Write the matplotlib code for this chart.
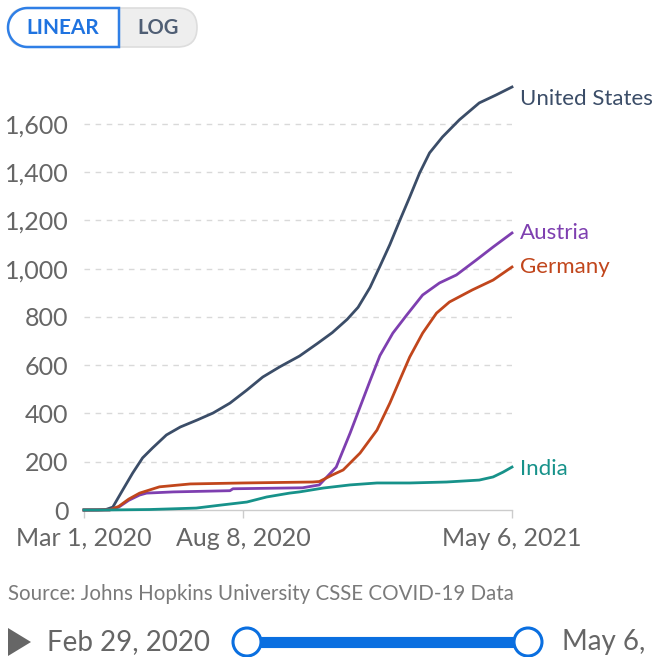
import matplotlib
matplotlib.use("Agg")
import matplotlib.pyplot as plt
from matplotlib.patches import FancyBboxPatch, Polygon, Circle
import numpy as np
import pandas as pd

plt.rcParams['font.family'] = ['Lato', 'DejaVu Sans']

# ---------------- data (cumulative confirmed COVID-19 deaths per million) ----------------
us_dates = ["2020-03-01", "2020-03-15", "2020-03-23", "2020-03-30", "2020-04-09", "2020-04-19",
            "2020-04-29", "2020-05-09", "2020-05-23", "2020-06-06", "2020-06-23", "2020-07-09",
            "2020-07-26", "2020-08-12", "2020-08-28", "2020-09-14", "2020-10-04", "2020-10-22",
            "2020-11-06", "2020-11-21", "2020-12-02", "2020-12-14", "2020-12-24", "2021-01-03",
            "2021-01-13", "2021-01-23", "2021-02-02", "2021-02-12", "2021-02-25", "2021-03-14",
            "2021-04-03", "2021-04-20", "2021-05-06"]
us_values = [0, 0.3, 2, 12, 83, 153, 216, 257, 311, 344, 373, 402, 443, 497, 551, 593, 638, 690,
             735, 790, 840, 922, 1010, 1100, 1200, 1297, 1397, 1480, 1546, 1617, 1687, 1720, 1753]

de_dates = ["2020-03-01", "2020-03-27", "2020-04-05", "2020-04-15", "2020-04-26", "2020-05-16",
            "2020-06-16", "2020-08-08", "2020-10-17", "2020-10-24", "2020-11-06", "2020-11-17",
            "2020-12-04", "2020-12-21", "2021-01-03", "2021-01-13", "2021-01-23", "2021-02-05",
            "2021-02-19", "2021-03-04", "2021-03-27", "2021-04-17", "2021-05-06"]
de_values = [0, 0.5, 15, 45, 70, 96, 108, 112, 116, 118, 145, 166, 236, 331, 443, 539, 634, 733,
             816, 862, 912, 953, 1007]

at_dates = ["2020-03-01", "2020-03-27", "2020-04-05", "2020-04-15", "2020-04-26", "2020-05-03",
            "2020-05-30", "2020-07-26", "2020-07-29", "2020-10-07", "2020-10-24", "2020-11-10",
            "2020-11-24", "2020-12-04", "2020-12-14", "2020-12-24", "2021-01-06", "2021-01-20",
            "2021-02-05", "2021-02-22", "2021-03-11", "2021-03-31", "2021-04-17", "2021-05-06"]
at_values = [0, 0.5, 12, 40, 62, 70, 75, 80, 88, 92, 104, 178, 319, 427, 535, 640, 733, 808,
             891, 941, 974, 1036, 1090, 1148]

in_dates = ["2020-03-01", "2020-03-21", "2020-05-06", "2020-05-30", "2020-06-22", "2020-07-16",
            "2020-08-12", "2020-09-01", "2020-09-24", "2020-10-04", "2020-10-28", "2020-11-24",
            "2020-12-21", "2021-01-23", "2021-03-01", "2021-04-03", "2021-04-17", "2021-04-27",
            "2021-05-06"]
in_values = [0, 0, 2, 5, 8, 20, 33, 54, 70, 75, 91, 104, 112, 112, 116, 124, 137, 157, 178]

series = [
    ("United States", us_dates, us_values, "#3b4d68"),
    ("Austria", at_dates, at_values, "#7e3fb0"),
    ("Germany", de_dates, de_values, "#c1461c"),
    ("India", in_dates, in_values, "#17928a"),
]
label_y = {"United States": 1705, "Austria": 1148, "Germany": 1007, "India": 170}

y_ticks = [0, 200, 400, 600, 800, 1000, 1200, 1400, 1600]
x_ticks = ["2020-03-01", "2020-08-08", "2021-05-06"]
x_tick_labels = ["Mar 1, 2020", "Aug 8, 2020", "May 6, 2021"]

# ---------------- figure ----------------
W, H = 652, 657
fig = plt.figure(figsize=(W / 100, H / 100), dpi=100)

def px_rect(x0, y0, x1, y1):
    return [x0 / W, 1 - y1 / H, (x1 - x0) / W, (y1 - y0) / H]

ax = fig.add_axes(px_rect(84, 80, 512, 510))
for name, d, v, c in series:
    ax.plot(pd.to_datetime(d), v, color=c, lw=2.0, solid_joinstyle="round", zorder=3, clip_on=False)
    ax.text(pd.to_datetime(d[-1]) + pd.Timedelta(days=8), label_y[name], name, color=c,
            fontsize=16, va="center", ha="left", clip_on=False)

ax.set_xlim(pd.Timestamp("2020-03-01"), pd.Timestamp("2021-05-06"))
ax.set_ylim(0, 1782)
for s in ["top", "right", "left"]:
    ax.spines[s].set_visible(False)
ax.spines["bottom"].set_color("#cccccc")
ax.spines["bottom"].set_linewidth(1)
ax.set_yticks(y_ticks)
ax.set_yticklabels([f"{t:,}" for t in y_ticks])
ax.tick_params(axis="y", length=0, pad=11, labelsize=18, labelcolor="#666666")
ax.set_xticks(pd.to_datetime(x_ticks))
ax.set_xticklabels(x_tick_labels)
ax.tick_params(axis="x", length=6, width=1, color="#cccccc", pad=6, labelsize=18, labelcolor="#666666")
for t in y_ticks[1:]:
    ax.axhline(t, color="#d9d9d9", lw=1, ls=(0, (4, 4)), zorder=1)

# ---------------- overlay (controls, source) ----------------
ov = fig.add_axes([0, 0, 1, 1], zorder=-1)
ov.set_xlim(0, W)
ov.set_ylim(H, 0)
ov.axis("off")

# LINEAR / LOG toggle
r = 19.5
pill = FancyBboxPatch((8, 8), 189, 39, boxstyle=f"round,pad=0,rounding_size={r}",
                      fc="#eeeeee", ec="#dddddd", lw=1.2)
ov.add_patch(pill)
th = np.linspace(np.pi / 2, 3 * np.pi / 2, 40)
cx, cy = 8 + r, 27.5
pts = [(119, 8)] + [(cx + r * np.cos(t), cy - r * np.sin(t)) for t in th] + [(119, 47)]
ov.add_patch(Polygon(pts, closed=True, fc="white", ec="#2f7fe6", lw=1.8))
ov.text(63, 28, "LINEAR", ha="center", va="center", fontsize=15, fontweight="bold", color="#1f73e0")
ov.text(158, 28, "LOG", ha="center", va="center", fontsize=14.5, fontweight="bold", color="#4f5e74")

# source
ov.text(8, 594, "Source: Johns Hopkins University CSSE COVID-19 Data", ha="left", va="center",
        fontsize=14.8, color="#7a7a7a")

# timeline
ov.add_patch(Polygon([(8, 628), (8, 656), (31, 642)], closed=True, fc="#666666", ec="none"))
ov.text(47, 642, "Feb 29, 2020", ha="left", va="center", fontsize=20, color="#666666")
ov.plot([247, 528], [642, 642], color="#0a6fe0", lw=8, solid_capstyle="butt")
for xc in (247, 528):
    ov.add_patch(Circle((xc, 642), 14, fc="white", ec="#0a6fe0", lw=2.2, zorder=5))
ov.text(562, 642, "May 6,", ha="left", va="center", fontsize=20, color="#666666")

fig.savefig("out.png", dpi=100)
